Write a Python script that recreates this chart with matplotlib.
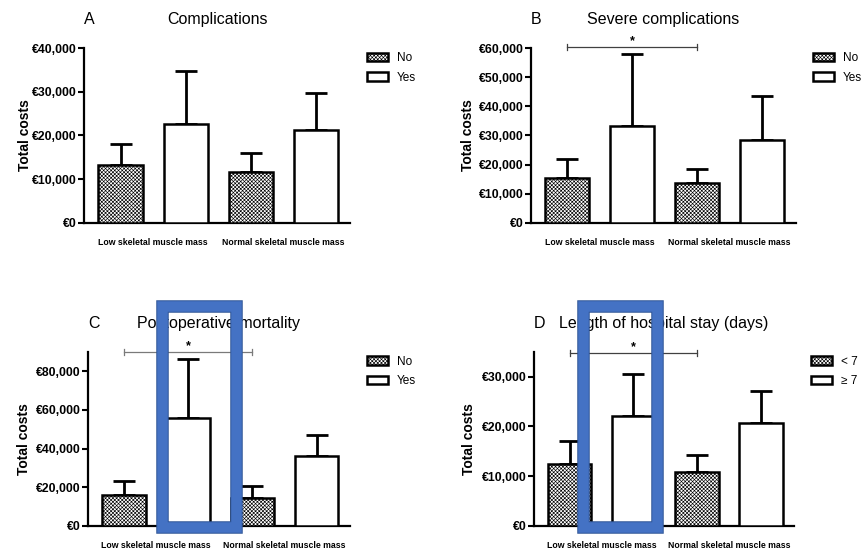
import matplotlib
matplotlib.use('Agg')
import matplotlib.pyplot as plt
import matplotlib.patches as mpatches
from matplotlib.ticker import FuncFormatter, MultipleLocator
import numpy as np

plt.rcParams['font.family'] = ['Liberation Sans', 'DejaVu Sans']
plt.rcParams['hatch.linewidth'] = 0.45

# ---------------------------------------------------------------- data
groups = ['Low skeletal muscle mass', 'Normal skeletal muscle mass']

titles = ['Complications', 'Severe complications',
          'Postoperative mortality', 'Length of hospital stay (days)']
letters = ['A', 'B', 'C', 'D']
legend_labels = [['No', 'Yes'], ['No', 'Yes'], ['No', 'Yes'], ['< 7', '\u2265 7']]

# mean total costs (EUR): [low, normal]
ref_means = [[13200, 11700], [15500, 13800], [16200, 14300], [12400, 10800]]   # No / < 7
grp_means = [[22600, 21300], [33400, 28500], [55700, 36100], [22100, 20600]]   # Yes / >= 7
# upper error bar length
ref_err = [[4800, 4200], [6500, 4600], [7000, 6400], [4700, 3400]]
grp_err = [[12300, 8400], [24800, 15000], [30300, 10900], [8400, 6500]]

y_max = [40000, 60000, 90000, 35000]
y_step = [10000, 10000, 20000, 10000]
bracket_y = [None, 60300, 90000, 34700]
bracket_col = [None, '#404040', '#7a7a7a', '#404040']

# ---------------------------------------------------------------- layout (pixels)
W, H = 862, 549
fig = plt.figure(figsize=(W / 100, H / 100), dpi=100)

# left, right, top, bottom in pixels
boxes = [(84, 350, 48.3, 222.7), (531, 796, 48.3, 222.7),
         (88, 350, 351.7, 526), (534, 794, 351.7, 526)]
ylabel_x = [25, 468.5, 24, 468.7]


def euro(v, pos):
    return '\u20ac{:,}'.format(int(v))


for i in range(4):
    l, r, t, b = boxes[i]
    ax = fig.add_axes([l / W, 1 - b / H, (r - l) / W, (b - t) / H])

    pos_ref = np.array([0, 2])
    pos_grp = np.array([1, 3])
    wbar = 0.68

    ax.bar(pos_ref, ref_means[i], width=wbar, color='white', edgecolor='black',
           hatch='xxxxxxxxx', linewidth=1.8, label=legend_labels[i][0], zorder=3)
    ax.bar(pos_grp, grp_means[i], width=wbar, color='white', edgecolor='black',
           linewidth=1.8, label=legend_labels[i][1], zorder=3)

    ax.errorbar(pos_ref, ref_means[i], yerr=[[0, 0], ref_err[i]], fmt='none',
                ecolor='black', elinewidth=2, capsize=8, capthick=2, zorder=2)
    ax.errorbar(pos_grp, grp_means[i], yerr=[[0, 0], grp_err[i]], fmt='none',
                ecolor='black', elinewidth=2, capsize=8, capthick=2, zorder=2)

    ax.set_xlim(-0.56, 3.52)
    ax.set_ylim(0, y_max[i])
    ax.yaxis.set_major_locator(MultipleLocator(y_step[i]))
    ax.yaxis.set_major_formatter(FuncFormatter(euro))

    ax.set_xticks([0.5, 2.5])
    ax.set_xticklabels(groups, fontsize=6.3, fontweight='bold')
    ax.tick_params(axis='x', length=0, pad=11)
    ax.tick_params(axis='y', length=4, width=1.5, pad=1, labelsize=8.8)
    for lab in ax.get_yticklabels():
        lab.set_fontweight('bold')

    for s in ['top', 'right']:
        ax.spines[s].set_visible(False)
    for s in ['left', 'bottom']:
        ax.spines[s].set_linewidth(1.6)

    ax.set_ylabel('Total costs', fontsize=10, fontweight='bold', va='center')
    ax.yaxis.set_label_coords((ylabel_x[i] - l) / (r - l), 0.5)

    ax.annotate(titles[i], xy=(0.5, 1), xycoords='axes fraction', xytext=(0, 20.5),
                textcoords='offset points', ha='center', va='center', fontsize=11.5)
    ax.annotate(letters[i], xy=(0, 1), xycoords='axes fraction', xytext=(0, 20.5),
                textcoords='offset points', ha='left', va='center', fontsize=11.5)

    if bracket_y[i] is not None:
        yb = bracket_y[i]
        tick = y_max[i] * 0.017
        c = bracket_col[i]
        ax.plot([0, 2], [yb, yb], color=c, lw=0.9, clip_on=False, zorder=4)
        ax.plot([0, 0], [yb - tick, yb + tick], color=c, lw=0.9, clip_on=False, zorder=4)
        ax.plot([2, 2], [yb - tick, yb + tick], color=c, lw=0.9, clip_on=False, zorder=4)
        ax.text(1, yb, '*', ha='center', va='bottom', fontsize=9, fontweight='bold')

    leg = ax.legend(loc='upper left', bbox_to_anchor=((r + 17) / W, 1 - (t + 4) / H),
                    bbox_transform=fig.transFigure, frameon=False, fontsize=8.5,
                    handlelength=1.8, handleheight=0.7, handletextpad=0.75,
                    labelspacing=0.62, borderpad=0, borderaxespad=0)

# ---------------------------------------------------------------- blue highlight boxes
highlights = [(162.5, 236.3, 306.3, 527), (583.5, 657.2, 306, 527)]
for x0, x1, y0, y1 in highlights:
    for col, lw in [('#2F5597', 12.5 * 0.72), ('#4472C4', 10.5 * 0.72)]:
        rect = mpatches.Rectangle((x0 / W, 1 - y1 / H), (x1 - x0) / W, (y1 - y0) / H,
                                  transform=fig.transFigure, fill=False, edgecolor=col,
                                  linewidth=lw, joinstyle='miter', zorder=10)
        fig.add_artist(rect)

fig.savefig('out.png', dpi=100)
